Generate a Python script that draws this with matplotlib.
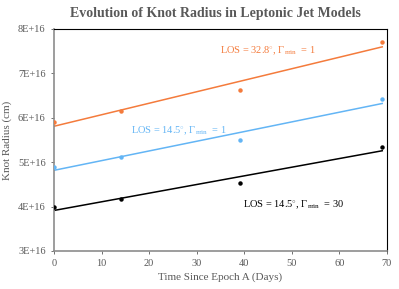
import numpy as np
import matplotlib.pyplot as plt

# ---- Data ----
days = [0, 14, 39, 69]
r_los328_g1 = [5.91e16, 6.15e16, 6.63e16, 7.71e16]
r_los145_g1 = [4.90e16, 5.11e16, 5.50e16, 6.42e16]
r_los145_g30 = [3.98e16, 4.18e16, 4.53e16, 5.34e16]

series = [
    (r_los328_g1, "#F47B3C", r"LOS = 32.8$^{\circ}$, $\Gamma_{\rm min}$  = 1", (0.50, 0.89)),
    (r_los145_g1, "#63B5F5", r"LOS = 14.5$^{\circ}$, $\Gamma_{\rm min}$  = 1", (0.23, 0.53)),
    (r_los145_g30, "#000000", r"LOS = 14.5$^{\circ}$, $\Gamma_{\rm min}$  = 30", (0.567, 0.195)),
]

plt.rcParams['font.family'] = ['Liberation Serif', 'DejaVu Serif']
plt.rcParams['mathtext.fontset'] = 'custom'
plt.rcParams['mathtext.rm'] = 'Liberation Serif'
plt.rcParams['mathtext.it'] = 'Liberation Serif'

fig = plt.figure(figsize=(3.99, 2.89), dpi=100)
ax = fig.add_axes([54 / 399, 1 - 251 / 289, 333 / 399, 222 / 289])

xfit = np.array([0, 69])
for vals, col, lab, pos in series:
    ax.plot(days, vals, 'o', color=col, markersize=2.2, zorder=3)
    k, b = np.polyfit(days, vals, 1)
    ax.plot(xfit, k * xfit + b, '-', color=col, linewidth=1.1)
    ax.text(pos[0], pos[1], lab, transform=ax.transAxes, color=col, fontsize=7.5)

ax.set_xlim(0, 70)
ax.set_ylim(3e16, 8e16)
ax.set_xticks(range(0, 71, 10))
ax.set_yticks([3e16, 4e16, 5e16, 6e16, 7e16, 8e16])
ax.set_yticklabels(["3E+16", "4E+16", "5E+16", "6E+16", "7E+16", "8E+16"])
ax.tick_params(labelsize=7.5, colors="#595959", length=2, width=0.6)
ax.tick_params(axis='x', pad=4)
ax.tick_params(axis='y', pad=4)

for s in ['left', 'bottom']:
    ax.spines[s].set_color('#8c8c8c')
    ax.spines[s].set_linewidth(1.2)
for s in ['top', 'right']:
    ax.spines[s].set_color('black')
    ax.spines[s].set_linewidth(0.8)

ax.set_xlabel("Time Since Epoch A (Days)", fontsize=8, color="#595959", labelpad=3)
ax.set_ylabel("Knot Radius (cm)", fontsize=8, color="#595959", labelpad=4)
fig.text(215 / 399, 0.952, "Evolution of Knot Radius in Leptonic Jet Models", fontsize=10,
         fontweight='bold', color="#595959", ha='center', va='center')

fig.savefig("out.png", dpi=100)
